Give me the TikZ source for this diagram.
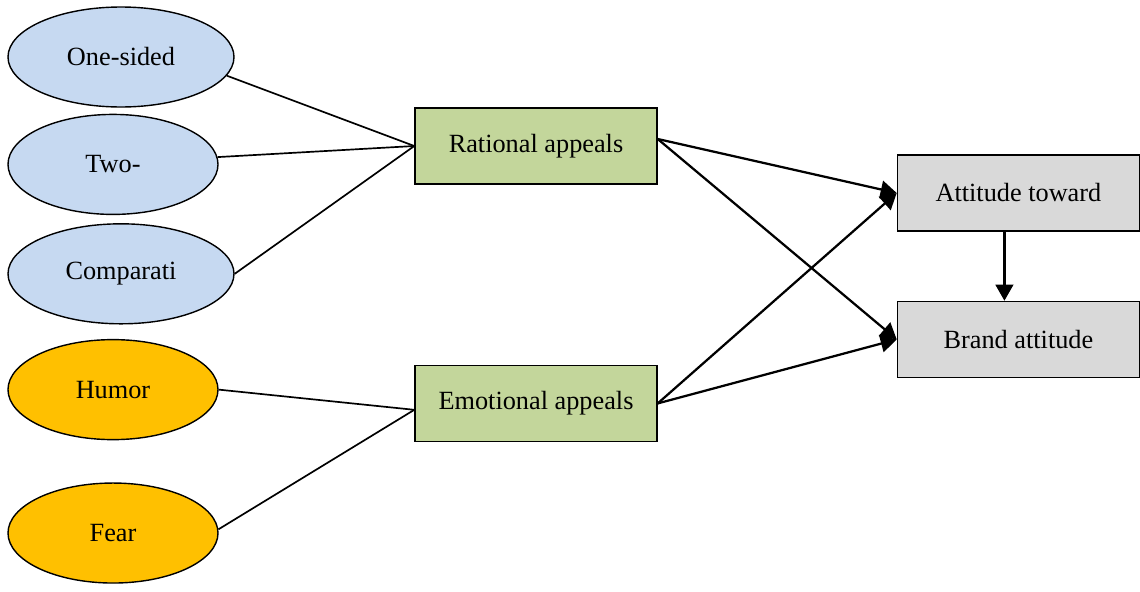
\documentclass[tikz,border=0pt]{standalone}
\usepackage{fontspec}
\setmainfont{Liberation Serif}
\usetikzlibrary{shapes.geometric, arrows.meta, positioning, calc}
\definecolor{blueOvalBg}{RGB}{198, 217, 241}
\definecolor{orangeOvalBg}{RGB}{255, 192, 0}
\definecolor{greenBoxBg}{RGB}{195, 214, 155}
\definecolor{grayBoxBg}{RGB}{217, 217, 217}
\tikzstyle{arrow} = [line width=1.6pt, -{Triangle[length=4mm, width=4.4mm]}]
\tikzstyle{line} = [line width=1.2pt]
\tikzstyle{basic} = [rectangle, minimum width=60.5mm, minimum height=19mm, text centered, draw=black, line width=1pt, text=black, font=\fontsize{18.7}{22}\selectfont]
\tikzstyle{oval} = [ellipse, minimum height=25mm, inner sep=0pt, draw=black, line width=1pt, text=black, font=\fontsize{18.7}{22}\selectfont]
\tikzstyle{bluestyle} = [fill=blueOvalBg]
\tikzstyle{orangestyle} = [fill=orangeOvalBg]
\tikzstyle{greenstyle} = [fill=greenBoxBg]
\tikzstyle{graystyle} = [fill=grayBoxBg]

\begin{document}
\begin{tikzpicture}[node distance=0mm]
\useasboundingbox (0,0) rectangle (285mm,-147.75mm);

\node (oneside) [oval, bluestyle, minimum width=56.5mm] at(30.25mm,-14.25mm) {One-sided};
\node (twoside) [oval, bluestyle, minimum width=52.5mm, anchor=north, xshift=-2mm, yshift=-1.5mm] at(oneside.south) {Two-};
\node (compar) [oval, bluestyle, minimum width=56.5mm, anchor=north, xshift=2mm, yshift=-2mm] at(twoside.south) {Comparati};
\node (humor) [oval, orangestyle, minimum width=52.5mm, anchor=north, xshift=-2mm, yshift=-3.6mm] at(compar.south) {Humor};
\node (fear) [oval, orangestyle, minimum width=52.5mm, anchor=north, yshift=-10.5mm] at(humor.south) {Fear};

\node (rational) [basic, greenstyle] at(134mm,-36.5mm) {Rational appeals};
\node (emotional) [basic, greenstyle, anchor=north, yshift=-45mm] at(rational.south) {Emotional appeals};

\node (attitude) [basic, graystyle, anchor=north west, xshift=59.75mm, yshift=-11.75mm] at(rational.north east) {Attitude toward};
\node (brand) [basic, graystyle, anchor=north, yshift=-17.25mm] at(attitude.south) {Brand attitude};

\draw [line] (oneside.-10) -- (rational.west);
\draw [line] (twoside.4) -- (rational.west);
\draw [line] (compar.east) -- (rational.west);
\draw [line] (humor.east) -- ($(emotional.west) + (0mm, -1.6mm)$);
\draw [line] (fear.2) -- ($(emotional.west) + (0mm, -1.6mm)$);

\draw [arrow] ($(rational.east) + (0mm, 1.75mm)$) -- (attitude.west);
\draw [arrow] ($(rational.east) + (0mm, 1.75mm)$) -- (brand.west);
\draw [arrow] (emotional.east) -- (attitude.west);
\draw [arrow] (emotional.east) -- (brand.west);
\draw [arrow] ($(attitude.south) + (-3.5mm, 0)$) -- ($(brand.north) + (-3.5mm, 0)$);

\end{tikzpicture}
\end{document}
